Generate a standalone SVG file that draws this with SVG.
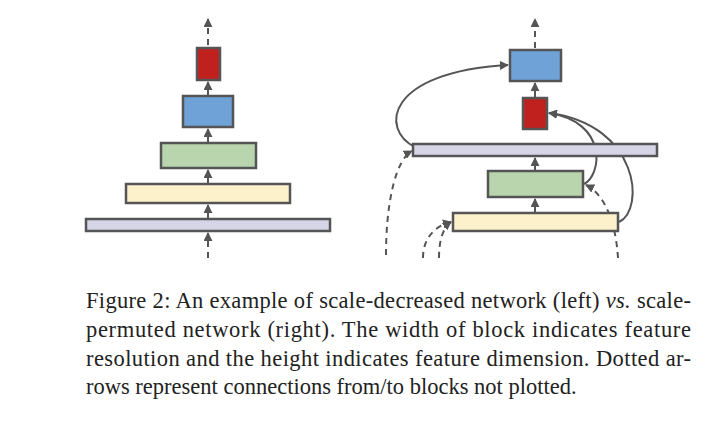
<svg xmlns="http://www.w3.org/2000/svg" width="720" height="424" viewBox="0 0 720 424">
<style>
rect{stroke:#555;stroke-width:2.5}
.c path,.c line{fill:none;stroke:#555;stroke-width:2}
.d{stroke-dasharray:6,5}
text{font-family:"Liberation Serif",serif;font-size:22.5px;fill:#222}
</style>
<defs><marker id="a" viewBox="0 0 10 10" refX="9" refY="5" markerWidth="4.5" markerHeight="4.5" orient="auto-start-reverse"><path d="M0,0L10,5L0,10z" fill="#555"/></marker></defs>
<rect width="720" height="424" fill="#fff" style="stroke:none"/>
<g class="c" id="connectors">
<line class="d" x1="208" y1="45" x2="208" y2="19" marker-end="url(#a)"/>
<line x1="208" y1="96" x2="208" y2="82" marker-end="url(#a)"/>
<line x1="208" y1="143" x2="208" y2="129" marker-end="url(#a)"/>
<line x1="208" y1="184" x2="208" y2="170" marker-end="url(#a)"/>
<line x1="208" y1="219" x2="208" y2="205" marker-end="url(#a)"/>
<line class="d" x1="208" y1="258" x2="208" y2="233" marker-end="url(#a)"/>
<line class="d" x1="535" y1="48" x2="535" y2="19" marker-end="url(#a)"/>
<line x1="535" y1="98" x2="535" y2="83" marker-end="url(#a)"/>
<line x1="535" y1="171" x2="535" y2="158" marker-end="url(#a)"/>
<line x1="535" y1="213" x2="535" y2="199" marker-end="url(#a)"/>
<path d="M415,147 C380,130 385,72 508,65" marker-end="url(#a)"/>
<path d="M584,184 C602,175 608,122 549,113" marker-end="url(#a)"/>
<path d="M619,222 C645,210 640,125 549,113" marker-end="url(#a)"/>
<path class="d" d="M618,258 C616,225 606,195 586,185" marker-end="url(#a)"/>
<path class="d" d="M386,255 C386,205 395,160 412,151" marker-end="url(#a)"/>
<path class="d" d="M423,258 C423,238 435,226 451,222" marker-end="url(#a)"/>
<path class="d" d="M439,258 C439,240 443,228 451,222" marker-end="url(#a)"/>
</g>
<g id="l-red"><rect x="197" y="48" width="23" height="32" fill="#c0201e"/></g>
<g id="l-blue"><rect x="183" y="96" width="50" height="31" fill="#6fa3d8"/></g>
<g id="l-green"><rect x="161" y="143" width="95" height="25" fill="#b8d5ae"/></g>
<g id="l-yellow"><rect x="126" y="184" width="164" height="19" fill="#fdf1cc"/></g>
<g id="l-purple"><rect x="86" y="219" width="244" height="12" fill="#d6d5e8"/></g>
<g id="r-blue"><rect x="510" y="50" width="51" height="31" fill="#6fa3d8"/></g>
<g id="r-red"><rect x="523" y="98" width="24" height="31" fill="#c0201e"/></g>
<g id="r-purple"><rect x="413" y="144" width="244" height="12" fill="#d6d5e8"/></g>
<g id="r-green"><rect x="488" y="171" width="95" height="26" fill="#b8d5ae"/></g>
<g id="r-yellow"><rect x="453" y="213" width="165" height="18" fill="#fdf1cc"/></g>
<text x="86" y="308" textLength="605" lengthAdjust="spacing">Figure 2:  An example of scale-decreased network (left) <tspan font-style="italic">vs.</tspan> scale-</text>
<text x="86" y="337" textLength="605" lengthAdjust="spacing">permuted network (right).  The width of block indicates feature</text>
<text x="86" y="366" textLength="605" lengthAdjust="spacing">resolution and the height indicates feature dimension. Dotted ar-</text>
<text x="86" y="394">rows represent connections from/to blocks not plotted.</text>
</svg>
